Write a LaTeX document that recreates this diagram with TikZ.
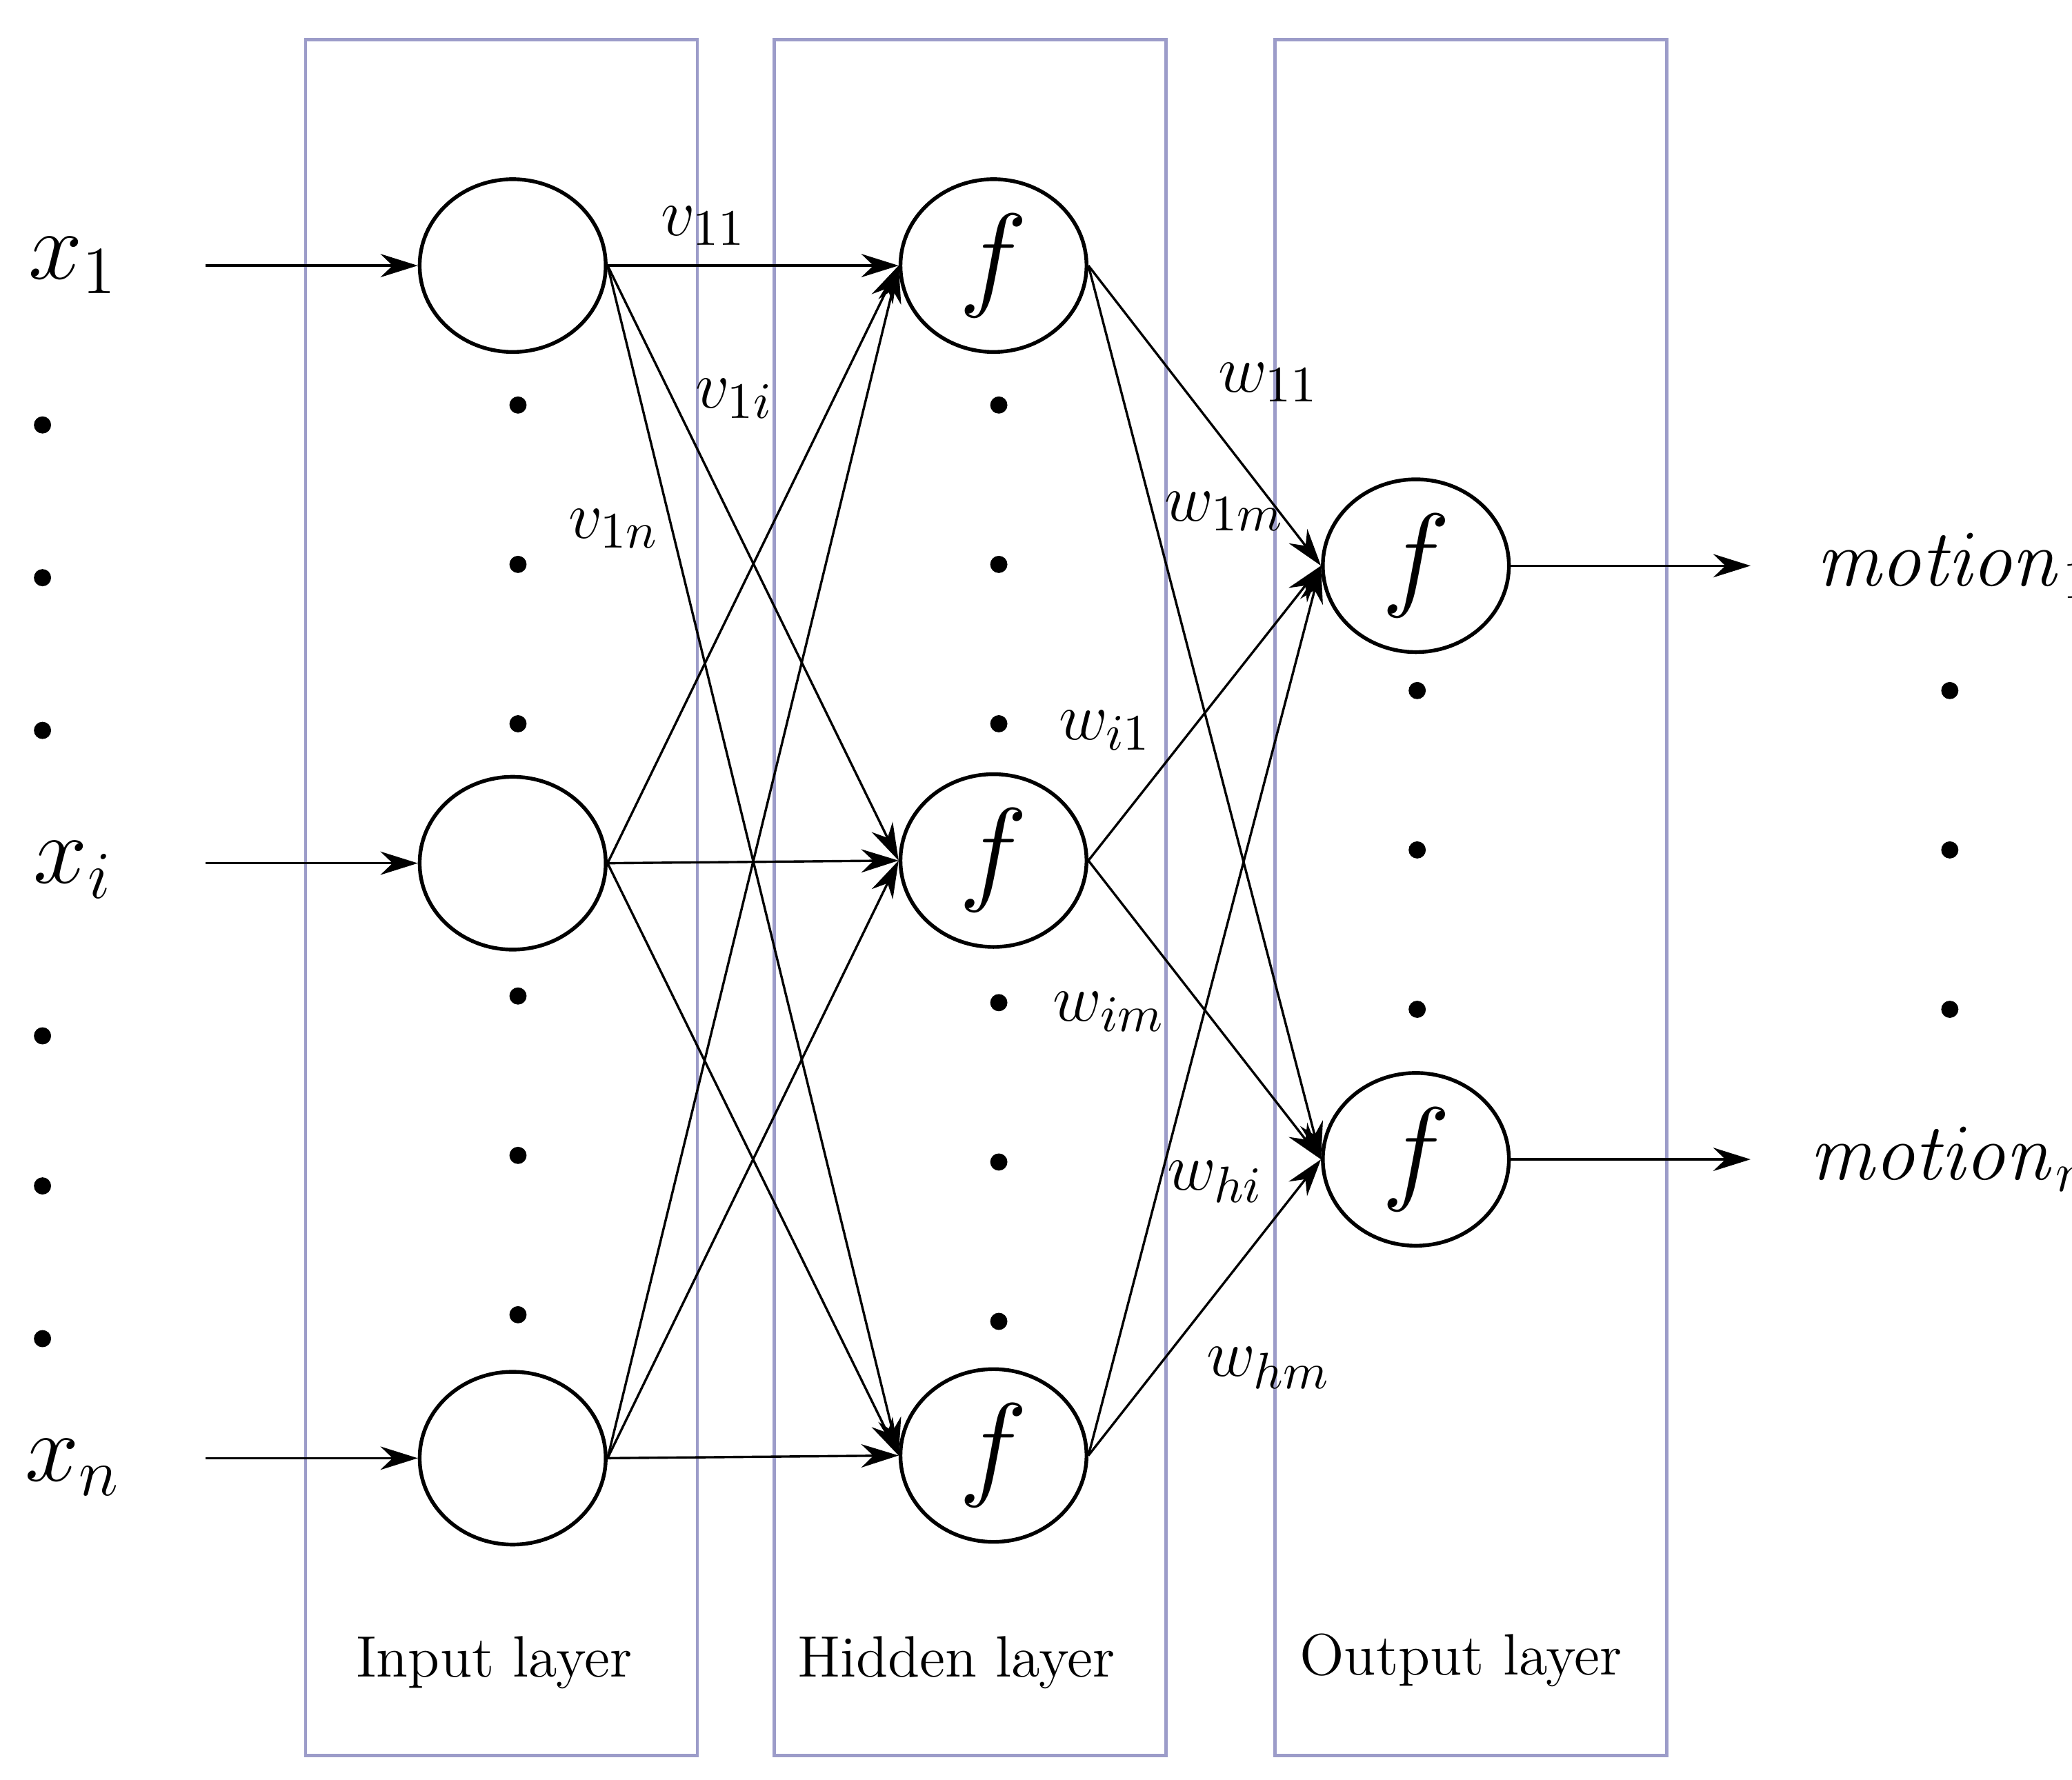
\documentclass[tikz,border=0pt]{standalone}
\usetikzlibrary{arrows.meta,shapes.geometric}
\begin{document}
\begin{tikzpicture}[x=0.01cm,y=-0.01cm,
  box/.style={draw=blue!30!gray!60,line width=0.7pt},
  neu/.style={draw,ellipse,minimum width=1.4cm,minimum height=1.3cm,inner sep=0,line width=0.8pt,font=\fontsize{26}{28}\selectfont\itshape},
  con/.style={-{Stealth[length=8pt,width=5pt]},line width=0.5pt},
  dt/.style={circle,fill,inner sep=1.3pt},
  big/.style={font=\fontsize{21}{23}\selectfont},
  mo/.style={font=\fontsize{17}{19}\selectfont},
  wl/.style={font=\fontsize{15}{17}\selectfont},
  lay/.style={font=\fontsize{12.5}{14}\selectfont}]
\useasboundingbox (0,0) rectangle (1560,1340);
\draw[box] (230,30) rectangle (525,1322);
\draw[box] (583,30) rectangle (878,1322);
\draw[box] (960,30) rectangle (1255,1322);
\node[neu] (i1) at (386,200) {};
\node[neu] (i2) at (386,650) {};
\node[neu] (i3) at (386,1098) {};
\node[neu] (h1) at (748,200) {$f$};
\node[neu] (h2) at (748,648) {$f$};
\node[neu] (h3) at (748,1096) {$f$};
\node[neu] (o1) at (1066,426) {$f$};
\node[neu] (o2) at (1066,873) {$f$};
\coordinate (s1) at (155,200); \coordinate (s2) at (155,650); \coordinate (s3) at (155,1098);
\draw[con] (s1) -- (i1.west); \draw[con] (s2) -- (i2.west); \draw[con] (s3) -- (i3.west);
\foreach \a in {i1,i2,i3}{\foreach \b in {h1,h2,h3}{\draw[con] (\a.east) -- (\b.west);}}
\foreach \a in {h1,h2,h3}{\foreach \b in {o1,o2}{\draw[con] (\a.east) -- (\b.west);}}
\coordinate (e1) at (1318,426); \coordinate (e2) at (1318,873);
\draw[con] (o1.east) -- (e1); \draw[con] (o2.east) -- (e2);
\node[big] (x1) at (55,200) {$x_1$};
\node[big] (xi) at (55,655) {$x_i$};
\node[big] (xn) at (55,1105) {$x_n$};
\node[mo,anchor=west] (m1) at (1355,426) {$\mathit{motion}_1$};
\node[mo,anchor=west] (m2) at (1350,873) {$\mathit{motion}_m$};
\foreach \y [count=\k] in {320,435,550,780,893,1008}{\node[dt] (dl\k) at (32,\y) {};}
\foreach \y [count=\k] in {305,425,545,750,870,990}{\node[dt] (di\k) at (390,\y) {};}
\foreach \y [count=\k] in {305,425,545,755,875,995}{\node[dt] (dh\k) at (752,\y) {};}
\foreach \y [count=\k] in {520,640,760}{\node[dt] (do\k) at (1067,\y) {}; \node[dt] (dr\k) at (1468,\y) {};}
\node[wl] (v11) at (530,170) {$v_{11}$};
\node[wl] (v1i) at (553,300) {$v_{1i}$};
\node[wl] (v1n) at (462,398) {$v_{1n}$};
\node[wl] (w11) at (955,288) {$w_{11}$};
\node[wl] (w1m) at (922,385) {$w_{1m}$};
\node[wl] (wi1) at (832,550) {$w_{i1}$};
\node[wl] (wim) at (835,762) {$w_{im}$};
\node[wl] (whi) at (915,890) {$w_{hi}$};
\node[wl] (whm) at (955,1030) {$w_{hm}$};
\node[lay] (l1) at (372,1252) {Input layer};
\node[lay] (l2) at (720,1252) {Hidden layer};
\node[lay] (l3) at (1100,1250) {Output layer};
\end{tikzpicture}
\end{document}
